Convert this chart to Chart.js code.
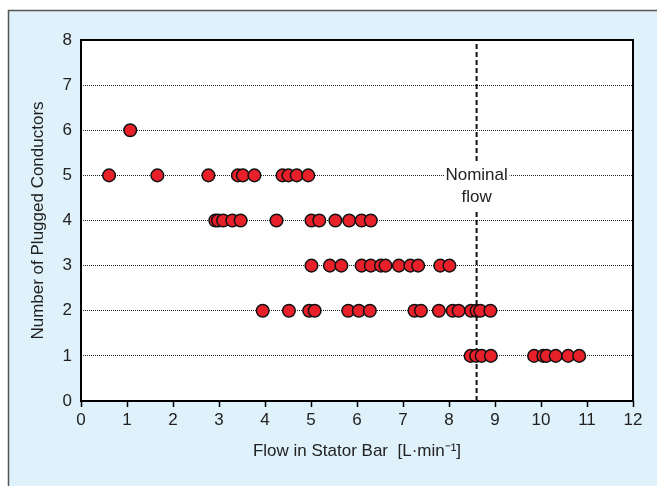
<!DOCTYPE html>
<html>
<head>
<meta charset="utf-8">
<script src="https://cdn.jsdelivr.net/npm/chart.js@4/dist/chart.umd.min.js"></script>
<style>
  body { margin: 0; background: #ffffff; }
  #wrap { width: 657px; height: 486px; }
</style>
</head>
<body>
<div id="wrap"><canvas id="grafico" width="657" height="486"></canvas></div>
<script>
// flow readings (L/min) for each number of plugged conductors
const row1Flow = [8.47, 8.59, 8.71, 8.91, 9.85, 10.05, 10.12, 10.32, 10.59, 10.83];
const row2Flow = [3.95, 4.52, 4.96, 5.08, 5.81, 6.04, 6.28, 7.25, 7.39, 7.78, 8.08, 8.21, 8.48, 8.60, 8.68, 8.90];
const row3Flow = [5.01, 5.41, 5.66, 6.10, 6.30, 6.52, 6.62, 6.91, 7.16, 7.33, 7.81, 8.01];
const row4Flow = [2.92, 2.98, 3.09, 3.29, 3.47, 4.25, 5.01, 5.18, 5.53, 5.83, 6.10, 6.30];
const row5Flow = [0.61, 1.66, 2.77, 3.41, 3.52, 3.77, 4.38, 4.51, 4.69, 4.94];
const row6Flow = [1.07];

const pluggedCounts = [1, 2, 3, 4, 5, 6];
const flowRows = [row1Flow, row2Flow, row3Flow, row4Flow, row5Flow, row6Flow];

const nominalFlow = 8.6;
const nominalLabel = ['Nominal', 'flow'];

const xTitle = 'Flow in Stator Bar  [L\u00B7min\u207B\u00B9]';
const yTitle = 'Number of Plugged Conductors';

const pontos = [];
flowRows.forEach((row, i) => {
  row.forEach(f => pontos.push({ x: f, y: pluggedCounts[i] }));
});

const fonte = "'Liberation Sans', Arial, sans-serif";

// light blue panel behind everything + frame round the plot
const painel = {
  id: 'painel',
  beforeDraw(chart) {
    const c = chart.ctx;
    c.save();
    c.fillStyle = '#dff1fa';
    c.fillRect(8, 10, 700, 500);
    c.strokeStyle = '#555';
    c.lineWidth = 1.5;
    c.strokeRect(8.5, 10.5, 700, 500);
    const a = chart.chartArea;
    c.fillStyle = '#ffffff';
    c.fillRect(a.left, a.top, a.right - a.left, a.bottom - a.top);
    c.restore();
  },
  afterDatasetsDraw(chart) {
    const c = chart.ctx;
    const xs = chart.scales.x, ys = chart.scales.y;
    const cx = xs.getPixelForValue(nominalFlow);
    const cy = ys.getPixelForValue(4.75);
    c.save();
    c.fillStyle = '#ffffff';
    c.fillRect(cx - 32, cy - 25, 65, 50);
    c.fillStyle = '#222';
    c.font = '17px ' + fonte;
    c.textAlign = 'center';
    c.textBaseline = 'middle';
    c.fillText(nominalLabel[0], cx, cy - 11);
    c.fillText(nominalLabel[1], cx, cy + 11);
    c.restore();
  },
  afterDraw(chart) {
    const c = chart.ctx;
    const a = chart.chartArea;
    c.save();
    c.strokeStyle = '#000';
    c.lineWidth = 2;
    c.strokeRect(a.left, a.top, a.right - a.left, a.bottom - a.top);
    c.restore();
  }
};

new Chart(document.getElementById('grafico').getContext('2d'), {
  type: 'scatter',
  data: {
    datasets: [
      {
        data: pontos,
        backgroundColor: '#e8202a',
        borderColor: '#111',
        borderWidth: 1.5,
        pointRadius: 6.3,
        order: 0
      },
      {
        type: 'line',
        data: [{ x: nominalFlow, y: 0 }, { x: nominalFlow, y: 8 }],
        borderColor: '#111',
        borderWidth: 2,
        borderDash: [5, 3],
        pointRadius: 0,
        order: 1
      }
    ]
  },
  plugins: [painel],
  options: {
    responsive: false,
    animation: false,
    layout: { padding: { top: 40, right: 24, left: 0, bottom: 0 } },
    plugins: {
      legend: { display: false },
      tooltip: { enabled: false }
    },
    scales: {
      x: {
        type: 'linear',
        min: 0,
        max: 12,
        afterFit(s) { s.height = 85; },
        ticks: { stepSize: 1, padding: 3, color: '#222', font: { family: fonte, size: 17 } },
        grid: { drawOnChartArea: false, drawTicks: true, tickLength: 6, tickColor: '#000', tickWidth: 1.5 },
        border: { display: false },
        title: {
          display: true,
          text: xTitle,
          color: '#222',
          font: { family: fonte, size: 17 },
          padding: { top: 0, bottom: 24 }
        }
      },
      y: {
        min: 0,
        max: 8,
        afterFit(s) { s.width = 81; },
        ticks: { stepSize: 1, padding: 9, color: '#222', font: { family: fonte, size: 17 } },
        grid: {
          drawTicks: false,
          lineWidth: 1,
          color: ctx => (ctx.tick && (ctx.tick.value === 0 || ctx.tick.value === 8)) ? 'rgba(0,0,0,0)' : '#222'
        },
        border: { display: false, dash: [1, 1] },
        title: {
          display: true,
          text: yTitle,
          color: '#222',
          font: { family: fonte, size: 17 },
          padding: { top: 28, bottom: 0 }
        }
      }
    }
  }
});
</script>
</body>
</html>
